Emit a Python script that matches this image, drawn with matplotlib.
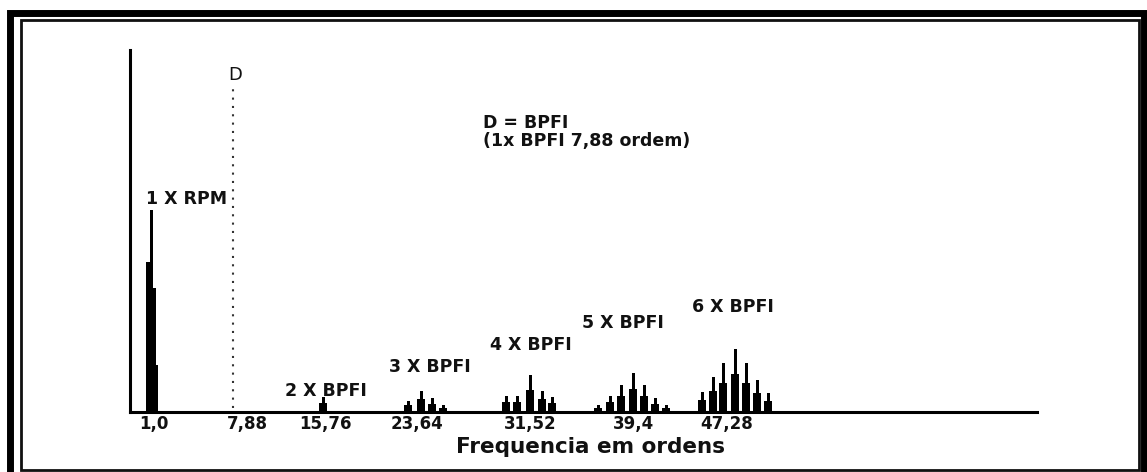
# espectro_bpfi.py

import matplotlib
matplotlib.use("Agg")
import matplotlib.pyplot as plt
from matplotlib.patches import Rectangle


# =========================================================
# DANE (os X schematyczna - jednostki rysunku, nie ordens)
# =========================================================

rpm_x = [18, 21.5, 24.5, 26.5]
rpm_amp = [150, 202, 124, 47]

bpfi_x = {
    2: [193],
    3: [278, 291, 302, 313],
    4: [376, 387, 400, 412, 422],
    5: [468, 480, 491, 503, 514, 525, 536],
    6: [572, 583, 593, 605, 616, 627, 638],
}

bpfi_amp = {
    2: [15],
    3: [11, 21, 14, 7],
    4: [16, 16, 37, 21, 15],
    5: [7, 16, 27, 39, 27, 14, 7],
    6: [20, 35, 49, 63, 49, 32, 19],
}

tick_pos = [24, 117, 195, 287, 400, 503, 597]
tick_labels = ["1,0", "7,88", "15,76", "23,64", "31,52", "39,4", "47,28"]

d_line_x = 103


# =========================================================
# RYSOWANIE
# =========================================================

W, H = 1147, 472

fig = plt.figure(figsize=(W / 100, H / 100), dpi=100)
fig.patch.set_facecolor("white")

# ramki dookola
fig.patches.append(Rectangle(
    (9.5 / W, 1 - 480 / H), (1144 - 9.5) / W, (480 - 12.5) / H,
    transform=fig.transFigure, fill=False, edgecolor="black", linewidth=5.0
))
fig.patches.append(Rectangle(
    (20.5 / W, 1 - 470 / H), (1138.5 - 20.5) / W, (470 - 19.5) / H,
    transform=fig.transFigure, fill=False, edgecolor="#111111", linewidth=2.0
))

ax = fig.add_axes([130 / W, (H - 412) / H, 907 / W, 362 / H])

ax.set_xlim(0, 907)
ax.set_ylim(0, 362)

for side in ["top", "right"]:
    ax.spines[side].set_visible(False)

for side in ["left", "bottom"]:
    ax.spines[side].set_linewidth(2.2)
    ax.spines[side].set_color("black")

ax.set_yticks([])

ax.set_xticks(tick_pos, tick_labels)
ax.tick_params(axis="x", length=0, pad=2)

for lab in ax.get_xticklabels():
    lab.set_fontsize(12)
    lab.set_fontweight("bold")
    lab.set_color("#111111")

# 1 x RPM
ax.bar(rpm_x, rpm_amp, width=3.5, color="black", zorder=3)

# harmoniczne BPFI: cienki szpic + szersza podstawa
for k in bpfi_x:
    xs = bpfi_x[k]
    amps = bpfi_amp[k]
    ax.bar(xs, amps, width=3.0, color="black", zorder=3)
    ax.bar(xs, [a * 0.6 for a in amps], width=7.5, color="black", zorder=3)

# linia D
ax.plot(
    [d_line_x, d_line_x], [4, 324],
    color="#333333",
    linewidth=1.5,
    linestyle=(0, (1, 3)),
    zorder=2
)

bold = dict(fontsize=12.5, fontweight="bold", color="#111111",
            family="DejaVu Sans")

ax.text(105, 337, "D", fontsize=13, ha="center", va="center",
        color="#111111", family="DejaVu Sans")

ax.text(57, 213, "1 X RPM", ha="center", va="center", zorder=4, **bold)

ax.text(353, 289, "D = BPFI", ha="left", va="center", **bold)
ax.text(353, 271, "(1x BPFI 7,88 ordem)", ha="left", va="center", **bold)

label_pos = {
    2: (196, 21),
    3: (300, 45),
    4: (401, 67),
    5: (493, 89),
    6: (603, 105),
}

for k, (lx, ly) in label_pos.items():
    ax.text(lx, ly, f"{k} X BPFI", ha="center", va="center", **bold)

ax.set_xlabel(
    "Frequencia em ordens",
    fontsize=15.5,
    fontweight="bold",
    color="#111111",
    va="center"
)
ax.xaxis.set_label_coords((591 - 130) / 907, (412 - 447) / 362)

plt.savefig("out.png", dpi=100)
plt.close()

print("Wykres zapisany: out.png")
